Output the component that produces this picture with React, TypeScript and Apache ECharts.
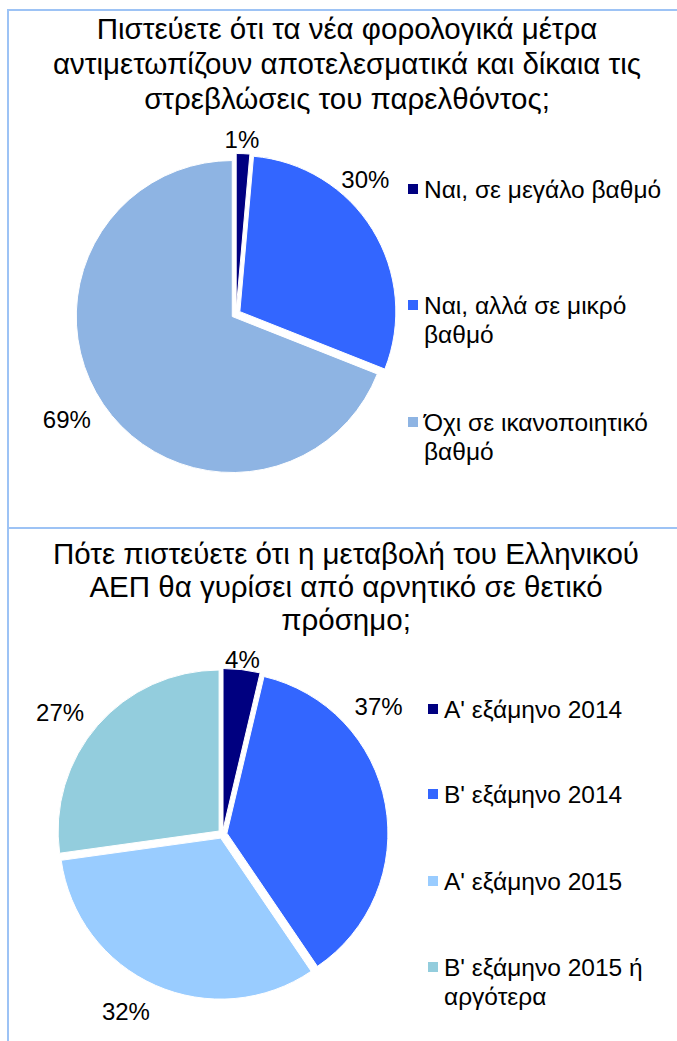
import React, { useEffect, useRef } from "react";
import * as echarts from "echarts";

const topTitle = "Πιστεύετε ότι τα νέα φορολογικά μέτρα\nαντιμετωπίζουν αποτελεσματικά και δίκαια τις\nστρεβλώσεις του παρελθόντος;";
const topCategories = ["Ναι, σε μεγάλο βαθμό", "Ναι, αλλά σε μικρό βαθμό", "Όχι σε ικανοποιητικό βαθμό"];
const topLegendLines = ["Ναι, σε μεγάλο βαθμό", "Ναι, αλλά σε μικρό\nβαθμό", "Όχι σε ικανοποιητικό\nβαθμό"];
const topValues = [1.4, 29.6, 69.0];
const topColors = ["#000080", "#3366FF", "#8EB4E3"];

const bottomTitle = "Πότε πιστεύετε ότι η μεταβολή του Ελληνικού\nΑΕΠ θα γυρίσει από αρνητικό σε θετικό\nπρόσημο;";
const bottomCategories = ["Α' εξάμηνο 2014", "Β' εξάμηνο 2014", "Α' εξάμηνο 2015", "Β' εξάμηνο 2015 ή αργότερα"];
const bottomLegendLines = ["Α' εξάμηνο 2014", "Β' εξάμηνο 2014", "Α' εξάμηνο 2015", "Β' εξάμηνο 2015 ή\nαργότερα"];
const bottomValues = [3.7, 36.8, 32.3, 27.2];
const bottomColors = ["#000080", "#3366FF", "#99CCFF", "#93CDDD"];

const FONT = "'Liberation Sans', Arial, sans-serif";
const BORDER = "#9DC3F5";

function legendFor(name: string, text: string, left: number, top: number) {
  const multi = text.indexOf("\n") >= 0;
  return {
    data: [name],
    left,
    top,
    orient: "vertical",
    padding: 0,
    itemWidth: 12,
    itemHeight: 12,
    itemGap: 0,
    icon: "rect",
    selectedMode: false,
    formatter: () => (multi ? "\n" + text : text),
    textStyle: {
      fontFamily: FONT,
      fontSize: 24.5,
      color: "#000",
      lineHeight: 29,
    },
  };
}

function pieSeries(cats: string[], vals: number[], colors: string[], center: number[], radius: number, offsets: number[][]) {
  return {
    type: "pie",
    center,
    radius,
    startAngle: 90,
    clockwise: true,
    selectedMode: "multiple",
    selectedOffset: 4.5,
    avoidLabelOverlap: false,
    emphasis: { disabled: true },
    itemStyle: { borderColor: "#fff", borderWidth: 1 },
    label: {
      show: true,
      position: "outside",
      fontFamily: FONT,
      fontSize: 24,
      color: "#000",
      formatter: (p: any) => Math.round(p.value) + "%",
    },
    labelLine: { show: false, length: 12, length2: 0 },
    labelLayout: (p: any) => ({ dx: offsets[p.dataIndex][0], dy: offsets[p.dataIndex][1] }),
    data: cats.map((c, i) => ({ name: c, value: vals[i], selected: true, itemStyle: { color: colors[i] } })),
  };
}

export default function App() {
  const ref = useRef<HTMLDivElement>(null);
  useEffect(() => {
    if (!ref.current) return;
    const chart = echarts.init(ref.current, undefined, { renderer: "svg" });
    const topTops = [174.5, 261.5, 378.5];
    const bottomTops = [694.5, 779.5, 866.5, 923.5];
    chart.setOption({
      animation: false,
      backgroundColor: "#fff",
      legend: [
        ...topCategories.map((c, i) => legendFor(c, topLegendLines[i], 406, topTops[i])),
        ...bottomCategories.map((c, i) => legendFor(c, bottomLegendLines[i], 426, bottomTops[i])),
      ],
      graphic: [
        { type: "line", shape: { x1: 8, y1: 9, x2: 8, y2: 1041 }, style: { stroke: BORDER, lineWidth: 2 } },
        { type: "line", shape: { x1: 7, y1: 10, x2: 677, y2: 10 }, style: { stroke: BORDER, lineWidth: 2 } },
        { type: "line", shape: { x1: 7, y1: 528, x2: 677, y2: 528 }, style: { stroke: BORDER, lineWidth: 2 } },
        { type: "text", x: 347, y: 10.5, style: { text: topTitle, fontFamily: FONT, fontSize: 29.5, lineHeight: 35, fill: "#000", align: "center", verticalAlign: "top" } },
        { type: "text", x: 346, y: 537, style: { text: bottomTitle, fontFamily: FONT, fontSize: 29.5, lineHeight: 33, fill: "#000", align: "center", verticalAlign: "top" } },
      ],
      series: [
        pieSeries(topCategories, topValues, topColors, [236, 314], 156, [[-24, -2], [-46.5, -44], [2.5, 9]]),
        pieSeries(bottomCategories, bottomValues, bottomColors, [222.5, 834], 161, [[-23, 2], [-47.5, -95], [4.5, 15], [0.5, -5]]),
      ],
    });
    return () => chart.dispose();
  }, []);
  return <div ref={ref} style={{ position: "absolute", left: 0, top: 0, width: 677, height: 1041 }} />;
}
